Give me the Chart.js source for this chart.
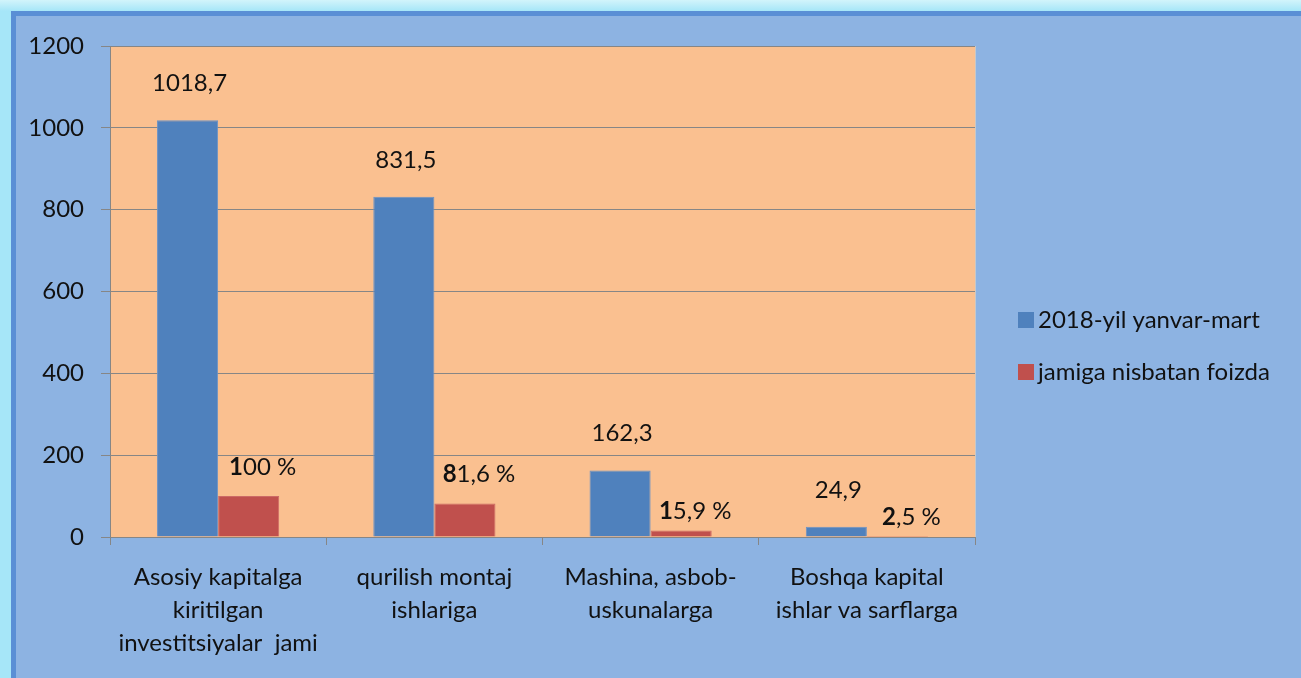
<!DOCTYPE html>
<html>
<head>
<meta charset="utf-8">
<script src="https://cdn.jsdelivr.net/npm/chart.js@4"></script>
<style>
  html, body { margin: 0; padding: 0; }
  body {
    width: 1301px; height: 678px; overflow: hidden;
    background: linear-gradient(to bottom, #d2f4fb 0px, #a6e6f8 11px);
    position: relative;
  }
  #frame {
    position: absolute; left: 11px; top: 11px; width: 1300px; height: 662px;
    background: #8db3e2;
    border-left: 5px solid #5a8fd5;
    border-top: 5px solid #5a8fd5;
    border-bottom: 3px solid #5a8fd5;
  }
  #chart { position: absolute; left: 0; top: 0; }
</style>
</head>
<body>
<div id="frame"></div>
<canvas id="chart" width="1301" height="678"></canvas>
<script>
// Chart data
const categories = [
    ['Asosiy kapitalga', 'kiritilgan', 'investitsiyalar  jami'],
    ['qurilish montaj', 'ishlariga'],
    ['Mashina, asbob-', 'uskunalarga'],
    ['Boshqa kapital', 'ishlar va sarflarga']
];
const seriesNames = ['2018-yil yanvar-mart', 'jamiga nisbatan foizda'];
const investValues = [1018.7, 831.5, 162.3, 24.9];
const shareValues = [100, 81.6, 15.9, 2.5];
const yTicks = [0, 200, 400, 600, 800, 1000, 1200];

const FONT = 'Lato, "Open Sans", sans-serif';
const SIZE = 24;
const TEXT = '#111111';

// uzbek style number: comma decimal
function fmt(v) {
    return String(v).replace('.', ',');
}

// orange plot background
const plotBg = {
    id: 'plotBg',
    beforeDraw(chart) {
        const a = chart.chartArea;
        const ctx = chart.ctx;
        ctx.save();
        ctx.fillStyle = '#fac090';
        ctx.fillRect(a.left, a.top, a.right - a.left, a.bottom - a.top);
        ctx.strokeStyle = '#c8c8c8';
        ctx.lineWidth = 1;
        ctx.beginPath();
        ctx.moveTo(a.right + 0.5, a.top);
        ctx.lineTo(a.right + 0.5, a.bottom);
        ctx.stroke();
        ctx.restore();
    }
};

// value labels above the bars
const valueLabels = {
    id: 'valueLabels',
    afterDatasetsDraw(chart) {
        const ctx = chart.ctx;
        const base = chart.scales.y.getPixelForValue(0);
        ctx.save();
        ctx.textBaseline = 'middle';
        ctx.fillStyle = TEXT;
        chart.getDatasetMeta(0).data.forEach((bar, i) => {
            ctx.font = SIZE + 'px ' + FONT;
            ctx.textAlign = 'center';
            ctx.fillText(fmt(investValues[i]), bar.x + 2, bar.y - 37);
        });
        chart.getDatasetMeta(1).data.forEach((bar, i) => {
            const s = fmt(shareValues[i]);
            const first = s.charAt(0);
            const rest = s.slice(1) + ' %';
            ctx.font = 'bold ' + SIZE + 'px ' + FONT;
            const w1 = ctx.measureText(first).width;
            ctx.font = SIZE + 'px ' + FONT;
            const w2 = ctx.measureText(rest).width;
            const x0 = bar.x + 14 - (w1 + w2) / 2;
            // short bars get their label a bit closer
            const gap = (base - bar.y) > 20 ? 29 : 19;
            const y = bar.y - gap;
            ctx.textAlign = 'left';
            ctx.font = 'bold ' + SIZE + 'px ' + FONT;
            ctx.fillText(first, x0, y);
            ctx.font = SIZE + 'px ' + FONT;
            ctx.fillText(rest, x0 + w1, y);
        });
        ctx.restore();
    }
};

// legend on the right
const sideLegend = {
    id: 'sideLegend',
    afterDraw(chart) {
        const ctx = chart.ctx;
        ctx.save();
        ctx.font = SIZE + 'px ' + FONT;
        ctx.textBaseline = 'middle';
        ctx.textAlign = 'left';
        chart.data.datasets.forEach((ds, i) => {
            const y = 320 + i * 52;
            ctx.fillStyle = ds.backgroundColor;
            ctx.fillRect(1018, y - 8, 16, 16);
            ctx.fillStyle = TEXT;
            ctx.fillText(ds.label, 1038, y);
        });
        ctx.restore();
    }
};

new Chart(document.getElementById('chart'), {
    type: 'bar',
    data: {
        labels: categories,
        datasets: [
            {
                label: seriesNames[0],
                data: investValues,
                backgroundColor: '#4f81bd',
                borderColor: '#6a93c6',
                borderWidth: 1,
                categoryPercentage: 0.565,
                barPercentage: 1.0
            },
            {
                label: seriesNames[1],
                data: shareValues,
                backgroundColor: '#c0504d',
                borderColor: '#cc6a66',
                borderWidth: 1,
                categoryPercentage: 0.565,
                barPercentage: 1.0
            }
        ]
    },
    options: {
        responsive: false,
        animation: false,
        layout: { padding: { top: 46, right: 326, bottom: 0, left: 0 } },
        plugins: {
            legend: { display: false },
            tooltip: { enabled: false }
        },
        scales: {
            x: {
                grid: {
                    display: true,
                    drawOnChartArea: false,
                    color: '#868686',
                    tickLength: 8,
                    offset: true
                },
                border: { color: '#868686' },
                ticks: {
                    color: TEXT,
                    font: { family: FONT, size: SIZE, lineHeight: 1.375 },
                    padding: 16,
                    maxRotation: 0
                },
                afterFit(scale) { scale.height = 678 - 537; }
            },
            y: {
                min: 0,
                max: 1200,
                afterBuildTicks(scale) {
                    scale.ticks = yTicks.map(v => ({ value: v }));
                },
                grid: { color: '#868686', tickLength: 9 },
                border: { color: '#868686' },
                ticks: {
                    color: TEXT,
                    font: { family: FONT, size: SIZE },
                    padding: 17,
                    callback: v => String(v)
                },
                afterFit(scale) { scale.width = 110; }
            }
        }
    },
    plugins: [plotBg, valueLabels, sideLegend]
});
</script>
</body>
</html>
